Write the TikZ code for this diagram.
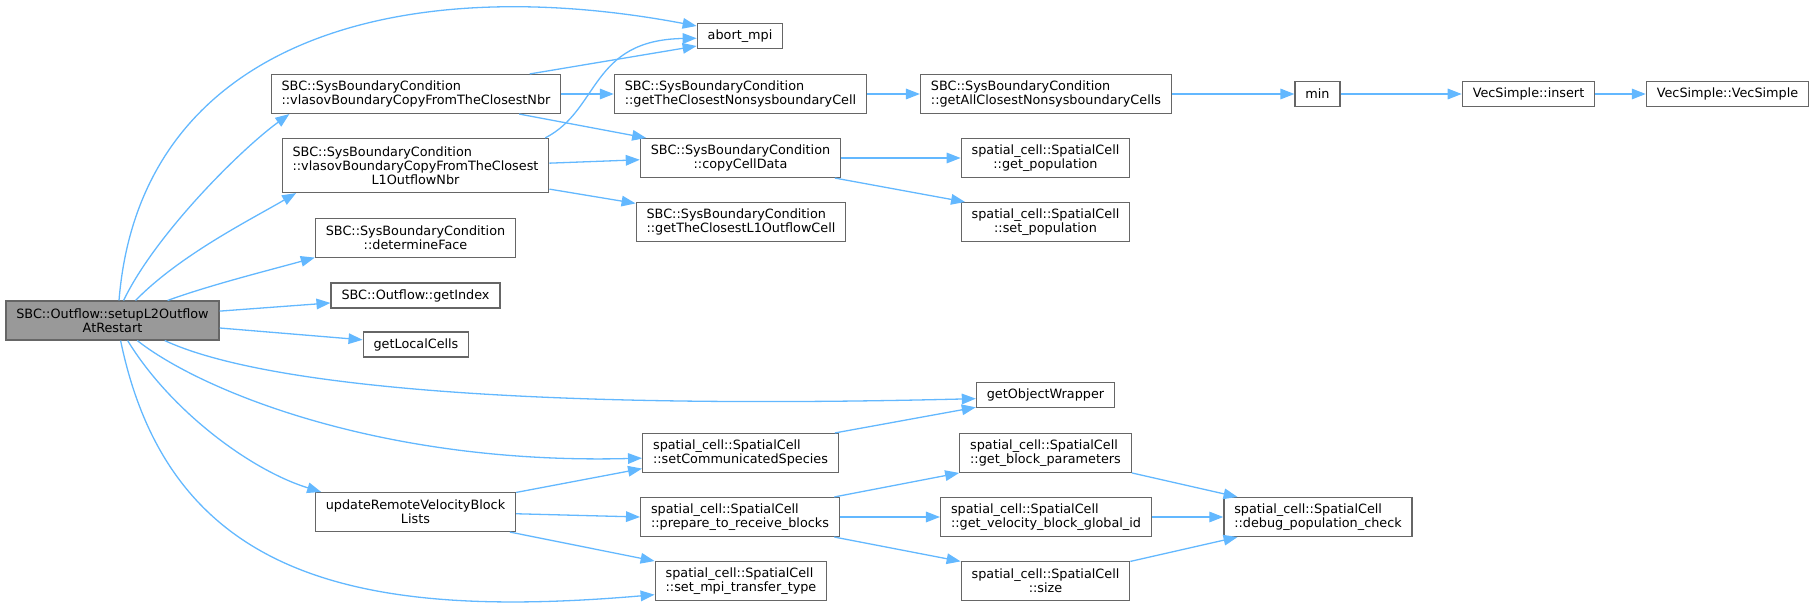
\documentclass[tikz,border=0pt]{standalone}
\usepackage{fontspec}
\usepackage{tikz}
\usetikzlibrary{arrows.meta}
\setmainfont{DejaVu Sans}
\definecolor{edgeblue}{HTML}{63B8FF}
\definecolor{boxgray}{HTML}{666666}
\definecolor{rootgray}{HTML}{999999}
\tikzset{
  fnode/.style = {rectangle, draw=boxgray, fill=white, line width=0.65pt,
    inner xsep=5.2pt, inner ysep=1pt, font=\fontsize{6.4}{7.15}\selectfont},% boite de fonction
  fnode_s/.style = {fnode, minimum height=12.4pt},% une ligne
  fnode_l/.style = {fnode, align=left, minimum height=19.4pt},% deux lignes, a gauche
  fnode_c/.style = {fnode, align=center, minimum height=19.4pt},% deux lignes, centre
  fnode_root/.style = {fnode_c, fill=rootgray},% racine du graphe
  call/.style = {draw=edgeblue, line width=0.65pt}% appel
}

\begin{document}
\begin{tikzpicture}[->,>={Triangle[length=7pt,width=5.3pt]},x=0.5pt,y=-0.5pt]
\useasboundingbox (0,0) rectangle (1816,609);
% colonne 1
\node [fnode_root] (setupL2) at (112.5,320.5) {SBC::Outflow::setupL2Outflow\\AtRestart};
% colonne 2
\node [fnode_l] (vlasovNbr) at (416,94) {SBC::SysBoundaryCondition\\::vlasovBoundaryCopyFromTheClosestNbr};
\node [fnode_c, minimum height=26.9pt] (vlasovL1) at (415.5,165.5)
  {{\begin{tabular}[b]{@{}l@{}}SBC::SysBoundaryCondition\\::vlasovBoundaryCopyFromTheClosest\end{tabular}}\\L1OutflowNbr};
\node [fnode_c] (determineFace) at (415.5,238) {SBC::SysBoundaryCondition\\::determineFace};
\node [fnode_s] (getIndex) at (415.5,295.5) {SBC::Outflow::getIndex};
\node [fnode_s] (getLocalCells) at (416,344.5) {getLocalCells};
\node [fnode_c] (updateRemote) at (415.5,512) {updateRemoteVelocityBlock\\Lists};
% colonne 3
\node [fnode_s] (abortMpi) at (740,36) {abort\_mpi};
\node [fnode_l] (closestNonsys) at (740.5,94) {SBC::SysBoundaryCondition\\::getTheClosestNonsysboundaryCell};
\node [fnode_c] (copyCellData) at (740.5,158) {SBC::SysBoundaryCondition\\::copyCellData};
\node [fnode_l] (closestL1) at (741,222) {SBC::SysBoundaryCondition\\::getTheClosestL1OutflowCell};
\node [fnode_l] (setCommSpecies) at (740.5,453) {spatial\_cell::SpatialCell\\::setCommunicatedSpecies};
\node [fnode_l] (prepareRecv) at (740,517) {spatial\_cell::SpatialCell\\::prepare\_to\_receive\_blocks};
\node [fnode_l] (setMpiType) at (741,581) {spatial\_cell::SpatialCell\\::set\_mpi\_transfer\_type};
% colonne 4
\node [fnode_l] (allClosest) at (1046,94) {SBC::SysBoundaryCondition\\::getAllClosestNonsysboundaryCells};
\node [fnode_c] (getPop) at (1045.5,158) {spatial\_cell::SpatialCell\\::get\_population};
\node [fnode_c] (setPop) at (1045.5,222) {spatial\_cell::SpatialCell\\::set\_population};
\node [fnode_s] (getObjWrapper) at (1045.5,395) {getObjectWrapper};
\node [fnode_l] (getBlockParams) at (1045.5,453) {spatial\_cell::SpatialCell\\::get\_block\_parameters};
\node [fnode_l] (getVelBlockId) at (1046,517) {spatial\_cell::SpatialCell\\::get\_velocity\_block\_global\_id};
\node [fnode_c] (sizeFn) at (1045.5,581) {spatial\_cell::SpatialCell\\::size};
% colonnes 5 a 7
\node [fnode_s] (minFn) at (1317.5,94) {min};
\node [fnode_l] (debugPopCheck) at (1318,517) {spatial\_cell::SpatialCell\\::debug\_population\_check};
\node [fnode_s] (vecInsert) at (1528.5,94) {VecSimple::insert};
\node [fnode_s] (vecSimple) at (1727.5,94) {VecSimple::VecSimple};

% appels de la racine
\draw [call] (setupL2.72) .. controls (140,40) and (400,-30) .. (abortMpi.167);
\draw [call] (setupL2.61) .. controls (155,235) and (240,150) .. (vlasovNbr.189);
\draw [call] (setupL2.41) .. controls (180,255) and (250,220) .. (vlasovL1.193);
\draw [call] (setupL2.20) .. controls (210,285) and (270,270) .. (determineFace.191);
\draw [call] (setupL2.5) -- (getIndex.185);
\draw [call] (setupL2.-4) -- (getLocalCells.175);
\draw [call] (setupL2.339) .. controls (260,385) and (520,410) .. (getObjWrapper.183);
\draw [call] (setupL2.321) .. controls (200,390) and (380,465) .. (setCommSpecies.183);
\draw [call] (setupL2.307) .. controls (170,410) and (250,470) .. (updateRemote.168);
\draw [call] (setupL2.292) .. controls (170,580) and (360,620) .. (setMpiType.189);
% appels suivants
\draw [call] (vlasovNbr.10) -- (abortMpi.193);
\draw [call] (vlasovNbr) -- (closestNonsys);
\draw [call] (vlasovNbr.-11) -- (copyCellData.168);
\draw [call] (vlasovL1.12) .. controls (600,110) and (590,40) .. (abortMpi.183);
\draw [call] (vlasovL1.1.5) -- (copyCellData.181.7);
\draw [call] (vlasovL1.-10) -- (closestL1.170.5);
\draw [call] (closestNonsys) -- (allClosest);
\draw [call] (allClosest) -- (minFn);
\draw [call] (minFn) -- (vecInsert);
\draw [call] (vecInsert) -- (vecSimple);
\draw [call] (copyCellData) -- (getPop);
\draw [call] (copyCellData.-12) -- (setPop.166);
\draw [call] (setCommSpecies.12) -- (getObjWrapper.190);
\draw [call] (updateRemote.11) -- (setCommSpecies.189.7);
\draw [call] (updateRemote.-1) -- (prepareRecv.180.5);
\draw [call] (updateRemote.-12) -- (setMpiType.167);
\draw [call] (prepareRecv.12) -- (getBlockParams.193);
\draw [call] (prepareRecv) -- (getVelBlockId);
\draw [call] (prepareRecv.-12) -- (sizeFn.167);
\draw [call] (getBlockParams.-13) -- (debugPopCheck.166);
\draw [call] (getVelBlockId) -- (debugPopCheck);
\draw [call] (sizeFn.13) -- (debugPopCheck.194);
\end{tikzpicture}
\end{document}
